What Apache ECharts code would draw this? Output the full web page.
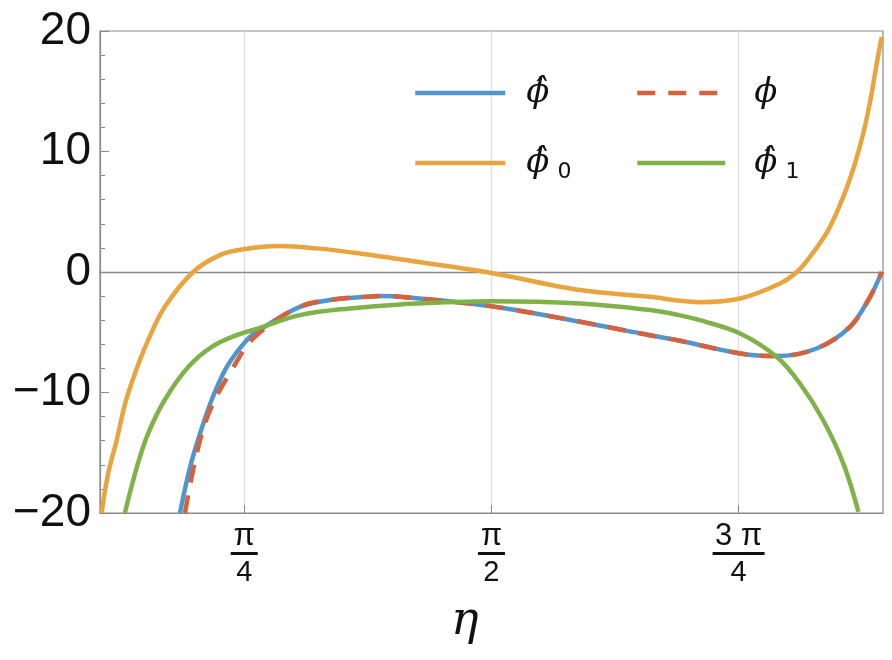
<!DOCTYPE html>
<html>
<head>
<meta charset="utf-8">
<script src="https://cdn.jsdelivr.net/npm/echarts@6/dist/echarts.min.js"></script>
<style>
  html, body { margin: 0; padding: 0; background: #fff; }
  #chart { width: 892px; height: 660px; }
</style>
</head>
<body>
<div id="chart"></div>
<script>
// values (eta, value)
const etaPhiHat = [0.581, 0.613, 0.645, 0.682, 0.730, 0.793, 0.835, 0.962, 1.068, 1.174, 1.217, 1.280, 1.566, 1.852, 2.075, 2.170, 2.361, 2.477, 2.604, 2.710, 2.774, 2.811]
const phiHat = [-20, -16.2, -13.4, -10.6, -7.87, -5.66, -4.79, -2.89, -2.28, -2.06, -2.0, -2.06, -2.83, -4.13, -5.25, -5.71, -6.76, -6.98, -6.35, -4.55, -2.06, 0.0]

const etaPhi = [0.597, 0.634, 0.676, 0.745, 0.819, 0.962, 1.068, 1.174, 1.217, 1.280, 1.566, 1.852, 2.075, 2.170, 2.361, 2.477, 2.604, 2.710, 2.774, 2.811]
const phi = [-20, -15.1, -11.5, -8.15, -5.38, -2.89, -2.28, -2.06, -2.0, -2.06, -2.83, -4.13, -5.25, -5.71, -6.76, -6.98, -6.35, -4.55, -2.06, 0.0]

const etaPhiHat0 = [0.332, 0.353, 0.380, 0.406, 0.438, 0.480, 0.533, 0.623, 0.708, 0.782, 0.899, 1.016, 1.153, 1.280, 1.566, 1.852, 2.075, 2.170, 2.233, 2.361, 2.488, 2.541, 2.583, 2.641, 2.689, 2.726, 2.755, 2.777, 2.795, 2.811]
const phiHat0 = [-20, -16.7, -13.96, -11.0, -8.42, -5.66, -2.89, 0.0, 1.40, 1.88, 2.15, 1.96, 1.54, 1.05, -0.06, -1.5, -2.06, -2.39, -2.5, -2.2, -0.95, 0.0, 1.26, 3.48, 6.25, 9.02, 11.8, 14.55, 17.3, 19.5]

const etaPhiHat1 = [0.406, 0.444, 0.480, 0.533, 0.608, 0.682, 0.761, 0.830, 0.962, 1.121, 1.280, 1.566, 1.852, 2.075, 2.170, 2.233, 2.361, 2.477, 2.551, 2.625, 2.689, 2.737]
const phiHat1 = [-20, -16.2, -13.4, -10.6, -7.87, -6.21, -5.24, -4.68, -3.58, -3.02, -2.69, -2.42, -2.61, -3.16, -3.6, -4.0, -5.1, -7.04, -9.25, -12.3, -15.9, -19.9]

const legendText = {
  phiHat: '{p|ϕ\u0302}',
  phi: '{p|ϕ}',
  phiHat0: '{p|ϕ\u0302}{s|0}',
  phiHat1: '{p|ϕ\u0302}{s|1}',
}

const xTicks = [Math.PI / 4, Math.PI / 2, 3 * Math.PI / 4]
const xTickNum = ['π', 'π', '3 π']
const xTickDen = ['4', '2', '4']
const yTicks = [-20, -10, 0, 10, 20]

const BLUE = '#5096cc'
const RED = '#d6613a'
const ORANGE = '#e8a43e'
const GREEN = '#80b24a'
const FRAME = '#8a8a8a'

const zip = (xs, ys) => xs.map((x, i) => [x, ys[i]])

const chart = echarts.init(document.getElementById('chart'))

const legendRich = {
  p: { fontFamily: 'DejaVu Serif', fontStyle: 'italic', fontSize: 34, color: '#111', lineHeight: 40 },
  s: { fontFamily: 'DejaVu Sans', fontSize: 22, color: '#111', verticalAlign: 'bottom', padding: [16, 0, 0, 8] },
}

function lineSeries(name, xs, ys, color, dashed) {
  return {
    name, type: 'line', data: zip(xs, ys),
    symbol: 'none', smooth: 0.35,
    lineStyle: { color, width: 4.5, type: dashed ? [18, 13] : 'solid', cap: 'butt' },
    itemStyle: { color },
    silent: true,
  }
}

const legendBase = {
  orient: 'vertical', top: 71, itemHeight: 14, itemGap: 36,
  formatter: (n) => legendText[n],
  itemStyle: { opacity: 0 },
  lineStyle: { width: 4.5 },
}

chart.setOption({
  animation: false,
  backgroundColor: '#fff',
  textStyle: { fontFamily: 'Liberation Sans, Arial, sans-serif' },
  title: {
    text: 'η', left: 446, top: 594,
    textStyle: { fontFamily: 'DejaVu Serif', fontStyle: 'italic', fontWeight: 'normal', fontSize: 46, color: '#111' },
  },
  grid: { left: 100, right: 9, top: 31, bottom: 147, show: true, borderColor: FRAME, borderWidth: 1.2 },
  legend: [
    {
      ...legendBase, data: ['phiHat', 'phiHat0'], left: 408, itemWidth: 90,
      textStyle: { padding: [0, 0, 0, 16], rich: legendRich },
    },
    {
      ...legendBase, data: ['phi', 'phiHat1'], left: 630, itemWidth: 88,
      textStyle: { padding: [0, 0, 0, 24], rich: legendRich },
    },
  ],
  xAxis: [
    {
      type: 'value', min: 0.327, max: 2.815, position: 'bottom',
      axisLine: { show: true, onZero: false, lineStyle: { color: FRAME, width: 1.2 } },
      axisTick: { show: true, inside: true, length: 8, customValues: xTicks, lineStyle: { color: FRAME } },
      splitLine: { show: true, lineStyle: { color: '#dcdcdc', width: 1.2 } },
      axisLabel: {
        customValues: xTicks, margin: 10, color: '#111',
        formatter: (v) => {
          const i = xTicks.findIndex((t) => Math.abs(t - v) < 1e-6)
          if (i < 0) return ''
          const bar = xTickNum[i].length > 1 ? 'bw' : 'b'
          return `{n|${xTickNum[i]}}\n{${bar}| }\n{d|${xTickDen[i]}}`
        },
        rich: {
          n: { fontSize: 31, lineHeight: 26, color: '#111', align: 'center' },
          b: { width: 27, height: 3, lineHeight: 9, backgroundColor: '#111', fontSize: 2, align: 'center' },
          bw: { width: 52, height: 3, lineHeight: 9, backgroundColor: '#111', fontSize: 2, align: 'center' },
          d: { fontSize: 29, lineHeight: 30, color: '#111', align: 'center' },
        },
      },
    },
    {
      type: 'value', min: 0.327, max: 2.815,
      axisLine: { show: true, onZero: true, lineStyle: { color: FRAME, width: 1.4 } },
      axisTick: { show: false }, axisLabel: { show: false }, splitLine: { show: false },
    },
  ],
  yAxis: {
    type: 'value', min: -20, max: 20, interval: 10,
    axisLine: { show: true, lineStyle: { color: FRAME, width: 1.2 } },
    axisTick: { show: true, inside: true, length: 9, lineStyle: { color: FRAME } },
    minorTick: { show: true, splitNumber: 5, length: 5, lineStyle: { color: FRAME } },
    splitLine: { show: false },
    axisLabel: {
      margin: 9, fontSize: 46, color: '#111',
      customValues: yTicks,
      formatter: (v) => (v < 0 ? '\u2212' + Math.abs(v) : String(v)),
    },
  },
  series: [
    lineSeries('phiHat', etaPhiHat, phiHat, BLUE, false),
    lineSeries('phi', etaPhi, phi, RED, true),
    lineSeries('phiHat0', etaPhiHat0, phiHat0, ORANGE, false),
    lineSeries('phiHat1', etaPhiHat1, phiHat1, GREEN, false),
  ],
})
</script>
</body>
</html>
